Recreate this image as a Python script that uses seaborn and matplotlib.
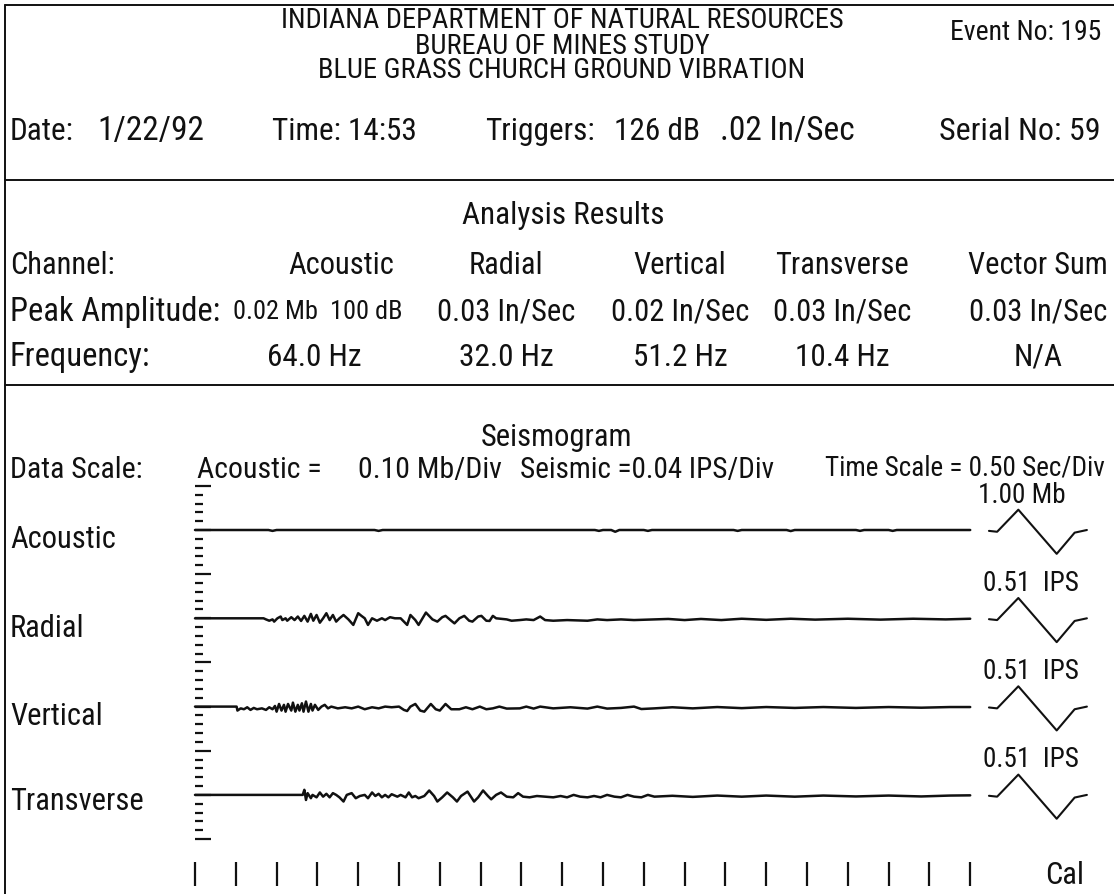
import matplotlib
matplotlib.use("Agg")
import matplotlib.pyplot as plt
from matplotlib import font_manager
import numpy as np
import pandas as pd
import seaborn as sns

# ---------------------------------------------------------------- report data
title_lines = ["INDIANA DEPARTMENT OF NATURAL RESOURCES",
               "BUREAU OF MINES STUDY",
               "BLUE GRASS CHURCH GROUND VIBRATION"]
event_no = "195"
date_str = "1/22/92"
time_str = "14:53"
trigger_db = "126 dB"
trigger_vel = ".02 In/Sec"
serial_no = "59"

channels = ["Acoustic", "Radial", "Vertical", "Transverse"]
peak_amplitude = ["0.02 Mb  100 dB", "0.03 In/Sec", "0.02 In/Sec", "0.03 In/Sec", "0.03 In/Sec"]
frequency = ["64.0 Hz", "32.0 Hz", "51.2 Hz", "10.4 Hz", "N/A"]
cal_labels = ["1.00 Mb", "0.51  IPS", "0.51  IPS", "0.51  IPS"]

acoustic_mb_per_div = 0.10
seismic_ips_per_div = 0.04
sec_per_div = 0.50
n_time_divs = 20

# ---------------------------------------------------------------- traces
# acoustic pressure (Mb) vs time (s)
acoustic_t = [0.00, 0.90, 0.95, 1.00, 2.20, 2.25, 2.30, 4.90, 4.95, 5.00, 5.10, 5.15,
              5.20, 5.50, 5.55, 5.60, 6.60, 6.65, 6.70, 7.25, 7.30, 7.35, 8.10, 8.15,
              8.20, 8.50, 8.55, 8.60, 9.50]
acoustic_a = [0.000, 0.000, -0.010, 0.000, 0.000, -0.010, 0.000, 0.000, -0.010, 0.000,
              0.000, -0.020, 0.000, 0.000, -0.010, 0.000, 0.000, -0.010, 0.000, 0.000,
              -0.012, 0.000, 0.000, -0.010, 0.000, 0.000, -0.010, 0.000, 0.000]

# radial particle velocity (in/s) vs time (s)
radial_t = [0.00, 0.84, 0.87, 0.91, 0.95, 0.97, 1.01, 1.05, 1.07, 1.11, 1.13, 1.18, 1.22,
            1.26, 1.30, 1.34, 1.38, 1.42, 1.45, 1.49, 1.53, 1.57, 1.61, 1.65, 1.69, 1.73,
            1.77, 1.82, 1.88, 1.94, 2.00, 2.04, 2.08, 2.12, 2.17, 2.23, 2.29, 2.33, 2.39,
            2.45, 2.52, 2.56, 2.60, 2.64, 2.70, 2.74, 2.83, 2.91, 2.97, 3.03, 3.07, 3.14,
            3.18, 3.24, 3.30, 3.36, 3.40, 3.47, 3.51, 3.57, 3.61, 3.65, 3.69, 3.82, 3.88,
            3.98, 4.06, 4.15, 4.23, 4.29, 4.39, 4.56, 4.81, 4.93, 5.05, 5.22, 5.38, 5.63,
            5.80, 6.00, 6.20, 6.45, 6.70, 7.00, 7.30, 7.60, 8.00, 8.40, 8.80, 9.20, 9.50]
radial_a = [0.000, 0.000, -0.005, -0.011, -0.005, -0.015, 0.000, 0.008, -0.008, 0.000,
            -0.011, 0.005, -0.008, 0.008, -0.012, 0.011, -0.015, 0.020, -0.011, 0.015,
            -0.020, 0.000, 0.023, -0.008, 0.015, -0.015, 0.000, 0.015, -0.005, -0.030,
            0.023, 0.011, 0.000, -0.030, 0.000, -0.011, 0.000, -0.008, 0.005, 0.000,
            0.000, -0.015, -0.030, 0.015, -0.008, -0.030, 0.026, -0.005, -0.015, 0.005,
            0.011, -0.011, -0.023, 0.000, 0.011, -0.011, -0.015, 0.008, 0.011, -0.011,
            -0.012, 0.011, 0.000, -0.005, -0.011, -0.008, -0.005, -0.008, 0.008, -0.008,
            -0.011, -0.008, -0.011, -0.005, -0.008, -0.005, -0.008, -0.005, -0.003,
            -0.008, -0.003, -0.008, -0.002, -0.007, -0.002, -0.006, -0.002, -0.006,
            -0.002, -0.005, -0.002]

# vertical particle velocity (in/s) vs time (s)
vertical_t = [0.00, 0.51, 0.52, 0.56, 0.60, 0.64, 0.68, 0.72, 0.76, 0.82, 0.87, 0.91, 0.95,
              0.98, 1.00, 1.03, 1.06, 1.09, 1.11, 1.14, 1.18, 1.20, 1.23, 1.26, 1.28, 1.31,
              1.33, 1.36, 1.39, 1.42, 1.44, 1.47, 1.51, 1.55, 1.59, 1.63, 1.67, 1.75, 1.84,
              1.92, 2.00, 2.08, 2.17, 2.25, 2.33, 2.41, 2.50, 2.56, 2.60, 2.64, 2.70, 2.76,
              2.81, 2.89, 2.95, 3.00, 3.07, 3.14, 3.24, 3.32, 3.40, 3.49, 3.57, 3.65, 3.73,
              3.82, 3.98, 4.06, 4.15, 4.23, 4.39, 4.60, 4.81, 4.93, 5.05, 5.22, 5.38, 5.47,
              5.63, 5.85, 6.10, 6.40, 6.70, 7.00, 7.35, 7.70, 8.10, 8.50, 8.90, 9.25, 9.50]
vertical_a = [0.000, 0.000, -0.018, -0.008, -0.012, -0.003, -0.015, -0.006, -0.012, -0.008,
              -0.015, -0.003, -0.012, 0.003, -0.023, 0.012, -0.018, 0.008, -0.023, 0.012,
              -0.018, 0.018, -0.023, 0.008, -0.018, 0.015, -0.023, 0.023, -0.023, 0.012,
              -0.018, 0.008, -0.015, 0.000, 0.008, -0.008, 0.000, -0.008, -0.003, -0.008,
              0.000, -0.012, -0.003, -0.008, 0.000, -0.003, 0.000, -0.015, -0.020, 0.000,
              0.012, -0.018, -0.023, 0.012, -0.012, -0.018, 0.012, -0.012, -0.012, -0.003,
              -0.012, 0.000, -0.012, -0.008, 0.000, -0.009, -0.008, 0.000, -0.009, 0.000,
              -0.008, -0.003, -0.009, 0.000, -0.009, -0.006, 0.000, -0.011, -0.008, -0.003,
              -0.008, -0.002, -0.007, -0.002, -0.006, -0.002, -0.006, -0.002, -0.005,
              -0.002, -0.002]

# transverse particle velocity (in/s) vs time (s)
transverse_t = [0.00, 1.32, 1.34, 1.36, 1.38, 1.42, 1.44, 1.49, 1.53, 1.57, 1.61, 1.65, 1.69,
                1.73, 1.77, 1.82, 1.86, 1.92, 1.97, 2.02, 2.08, 2.12, 2.17, 2.21, 2.25, 2.29,
                2.33, 2.37, 2.41, 2.48, 2.52, 2.58, 2.62, 2.66, 2.70, 2.74, 2.81, 2.87, 2.93,
                2.97, 3.03, 3.09, 3.16, 3.21, 3.26, 3.34, 3.42, 3.47, 3.53, 3.59, 3.63, 3.69,
                3.75, 3.82, 3.90, 3.96, 4.02, 4.10, 4.19, 4.29, 4.39, 4.48, 4.56, 4.64, 4.72,
                4.81, 4.89, 4.97, 5.05, 5.14, 5.22, 5.30, 5.38, 5.47, 5.55, 5.63, 5.85, 6.10,
                6.40, 6.70, 7.00, 7.35, 7.70, 8.10, 8.50, 8.90, 9.25, 9.50]
transverse_a = [0.000, 0.000, 0.023, -0.023, 0.008, -0.015, 0.000, -0.011, 0.011, -0.008,
                0.005, -0.011, 0.008, 0.000, -0.011, -0.030, 0.000, 0.008, -0.015, -0.005,
                0.000, -0.015, 0.011, -0.005, 0.005, -0.011, 0.000, -0.011, 0.003, -0.008,
                0.000, -0.011, 0.011, -0.011, -0.005, -0.015, -0.005, 0.020, -0.005, -0.030,
                -0.011, 0.011, -0.011, -0.030, -0.005, 0.015, -0.030, -0.011, 0.020, -0.005,
                -0.020, 0.000, 0.011, -0.008, -0.011, 0.008, -0.008, -0.011, -0.005, -0.008,
                -0.011, -0.005, -0.011, 0.000, -0.008, -0.011, -0.005, -0.011, 0.000, -0.008,
                -0.011, 0.000, -0.008, -0.011, 0.000, -0.008, -0.004, -0.009, -0.003, -0.008,
                -0.003, -0.008, -0.003, -0.007, -0.003, -0.007, -0.003, -0.002]

# calibration pulse (divisions) vs time (s), drawn after each record
cal_t = [9.73, 9.83, 10.09, 10.56, 10.78, 10.93]
cal_div = [-0.1, -0.2, 2.3, -2.7, -0.3, 0.0]

# ---------------------------------------------------------------- fonts
# prefer a narrow face; fall back to a regular one drawn smaller
available = {f.name for f in font_manager.fontManager.ttflist}
narrow_candidates = ["Liberation Sans Narrow", "Roboto Condensed", "DejaVu Sans Condensed",
                     "Open Sans Condensed", "Noto Sans Condensed"]
narrow = next((n for n in narrow_candidates if n in available), None)
if narrow is not None:
    FONT, FSCALE, STRETCH = narrow, 1.0, "normal"
elif "Roboto" in available:
    FONT, FSCALE, STRETCH = "Roboto", 0.80, "condensed"
else:
    FONT, FSCALE, STRETCH = "DejaVu Sans", 0.74, "normal"

# ---------------------------------------------------------------- figure
W, H = 1114, 894
sns.set_theme(style="white")
plt.rcParams["font.family"] = [FONT, "DejaVu Sans"]
fig = plt.figure(figsize=(W / 100, H / 100), dpi=100)
fig.patch.set_facecolor("white")
INK = "#111111"


def fx(x):
    return x / W


def fy(y):
    return 1 - y / H


def put(x, y, s, ha="left", size=22, **kw):
    fig.text(fx(x), fy(y), s, ha=ha, va="center", fontsize=size * FSCALE,
             fontstretch=STRETCH, color=INK, **kw)


# frame lines of the report
frame = fig.add_axes([0, 0, 1, 1], zorder=-1)
frame.set_xlim(0, W)
frame.set_ylim(H, 0)
frame.axis("off")
for yl in (5, 180, 385):
    frame.plot([5, W], [yl, yl], color=INK, lw=1.4)
frame.plot([5, 5], [5, H], color=INK, lw=1.4)

# header
for i, line in enumerate(title_lines):
    put(562, 21 + 25 * i, line, ha="center", size=20.5)
put(1101, 32, f"Event No: {event_no}", ha="right", size=20)
put(10, 131, "Date:", size=22.5)
put(97, 131, date_str, size=24)
put(272, 131, f"Time: {time_str}", size=22.5)
put(485, 131, "Triggers:", size=22.5)
put(614, 131, trigger_db, size=22.5)
put(720, 131, trigger_vel, size=24)
put(1101, 131, f"Serial No: {serial_no}", ha="right", size=23)

# analysis results
col_x = [341, 506, 680, 842, 1038]
put(563, 216, "Analysis Results", ha="center", size=22.5)
put(10, 265, "Channel:", size=22)
for cx, name in zip(col_x, channels + ["Vector Sum"]):
    put(cx, 265, name, ha="center", size=22)
put(10, 312, "Peak Amplitude:", size=23.5)
put(233, 312, peak_amplitude[0], size=19)
for cx, val in zip(col_x[1:], peak_amplitude[1:]):
    put(cx, 312, val, ha="center", size=22)
put(10, 357, "Frequency:", size=23.5)
freq_x = [314] + col_x[1:]
for cx, val in zip(freq_x, frequency):
    put(cx, 357, val, ha="center", size=22.5)

# seismogram header
put(557, 437, "Seismogram", ha="center", size=22)
put(10, 470, "Data Scale:", size=21.5)
put(197, 470, "Acoustic =", size=21.5)
put(358, 470, f"{acoustic_mb_per_div:.2f} Mb/Div", size=21.5)
put(520, 470, f"Seismic ={seismic_ips_per_div:.2f} IPS/Div", size=21)
put(1105, 468, f"Time Scale = {sec_per_div:.2f} Sec/Div", ha="right", size=19.5)

# seismogram axes: x in seconds, y in divisions
px_per_s = 81.6
px_per_div = 8.83
x0_px, base0_px = 195, 530
ax_left, ax_right, ax_top, ax_bot = 185, 1105, 478, 892
ax = fig.add_axes([fx(ax_left), fy(ax_bot), (ax_right - ax_left) / W, (ax_bot - ax_top) / H])
ax.set_xlim((ax_left - x0_px) / px_per_s, (ax_right - x0_px) / px_per_s)
ax.set_ylim((base0_px - ax_bot) / px_per_div, (base0_px - ax_top) / px_per_div)
ax.axis("off")
ax.patch.set_alpha(0)

channel_gap = 10  # divisions between record baselines
records = [
    (acoustic_t, np.array(acoustic_a) / acoustic_mb_per_div),
    (radial_t, np.array(radial_a) / seismic_ips_per_div),
    (vertical_t, np.array(vertical_a) / seismic_ips_per_div),
    (transverse_t, np.array(transverse_a) / seismic_ips_per_div),
]
for k, (tt, dv) in enumerate(records):
    base = -channel_gap * k
    df = pd.DataFrame({"t": tt, "y": dv + base})
    sns.lineplot(data=df, x="t", y="y", ax=ax, color=INK, lw=1.8,
                 estimator=None, sort=False)
    cal = pd.DataFrame({"t": cal_t, "y": np.array(cal_div) + base})
    sns.lineplot(data=cal, x="t", y="y", ax=ax, color=INK, lw=1.5,
                 estimator=None, sort=False)
    ylab = base0_px + channel_gap * k * px_per_div
    put(10, ylab + 10 - 3 * (k == 3), channels[k], size=22)
    put(978 + (5 if k else 0), ylab - 35, cal_labels[k], size=19.5)

# amplitude division scale on the left
div_levels = np.arange(5, -36, -1)
short = div_levels[div_levels % 5 != 0]
mid = div_levels[div_levels % 5 == 0]
ax.hlines(short, 0, 8 / px_per_s, color=INK, lw=1.6)
ax.hlines(mid, 0, 16 / px_per_s, color=INK, lw=1.6)

# time division marks along the bottom
tick_t = np.arange(n_time_divs) * sec_per_div
ax.vlines(tick_t, (base0_px - 886) / px_per_div, (base0_px - 862) / px_per_div,
          color=INK, lw=1.6)
put(1045, 875, "Cal", size=22)

fig.savefig("out.png", dpi=100, facecolor="white")
